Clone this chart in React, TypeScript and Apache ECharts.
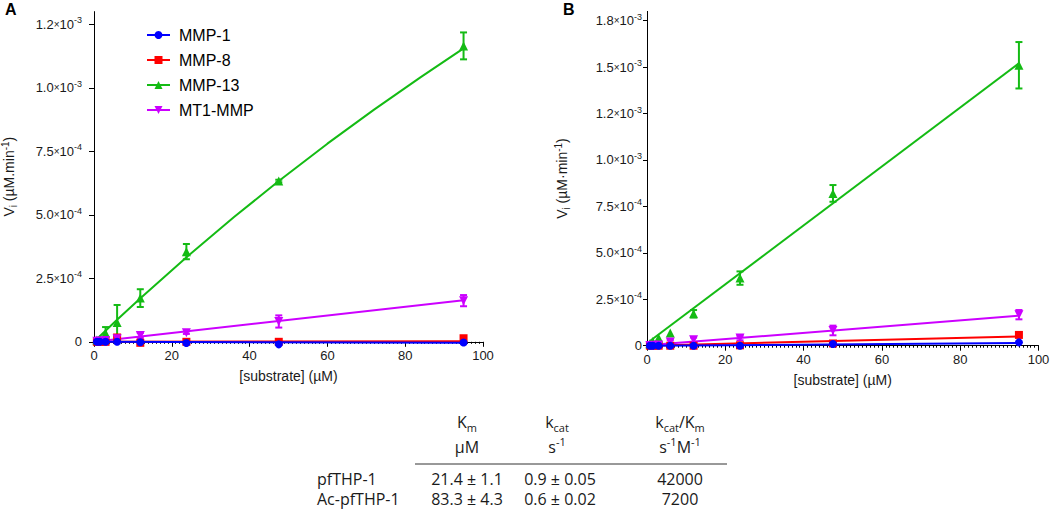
import React, { useEffect, useRef } from "react";
import * as echarts from "echarts";

// ---------- data ----------
const substrate = [0.74, 1.48, 2.97, 5.94, 11.9, 23.75, 47.5, 95];
const enzymes = ["MMP-1", "MMP-8", "MMP-13", "MT1-MMP"];
const enzymeColors = ["#0000ff", "#ff0000", "#14bb14", "#cc00ff"];
const enzymeSymbols = ["circle", "rect", "triangle", "triangle"];
const enzymeRotate = [0, 0, 0, 180];
const enzymeSymbolSize = [8, 8, 9, 9];
const enzymeZ = [5, 3, 3, 3];

// Panel A (pfTHP-1)
const aMMP1 = [0, 0, 0, 0, -2e-6, -5e-6, -1e-5, -3e-6];
const aMMP8 = [0, 0, 0, 1.7e-5, -4e-6, 0, 0, 1.4e-5];
const aMMP13 = [7e-6, 1e-5, 3.4e-5, 7.6e-5, 1.72e-4, 3.55e-4, 6.33e-4, 1.165e-3];
const aMT1 = [2e-6, 3e-6, 5e-6, 1.2e-5, 2.5e-5, 3.6e-5, 8e-5, 1.62e-4];
const aErrMMP1 = [0, 0, 0, 0, 0, 0, 0, 0];
const aErrMMP8 = [0, 0, 0, 0, 0, 0, 0, 0];
const aErrMMP13 = [0, 0, 2.4e-5, 6.9e-5, 3.5e-5, 3e-5, 5e-6, 5.3e-5];
const aErrMT1 = [0, 0, 0, 0, 1e-5, 5e-6, 2.4e-5, 2.2e-5];
const aFitLinearX = [0, 95];
const aFitMMP1 = [0, -4e-6];
const aFitMMP8 = [0, 2e-6];
const aFitMT1 = [0, 1.64e-4];
const aFitMMP13X = [0, 6, 12, 24, 36, 47.5, 60, 72, 84, 95];
const aFitMMP13 = [0, 8.8e-5, 1.72e-4, 3.36e-4, 4.91e-4, 6.33e-4, 7.8e-4, 9.14e-4, 1.042e-3, 1.155e-3];

// Panel B (Ac-pfTHP-1)
const bMMP1 = [0, 0, 0, 0, 0, 0, 9e-6, 1.8e-5];
const bMMP8 = [0, 0, 0, 0, 0, 2e-6, 1.2e-5, 5.8e-5];
const bMMP13 = [1e-5, 2.3e-5, 4.1e-5, 6.8e-5, 1.72e-4, 3.64e-4, 8.2e-4, 1.51e-3];
const bMT1 = [1e-6, 2e-6, 4e-6, 2e-5, 3.2e-5, 4.1e-5, 8.2e-5, 1.67e-4];
const bErrMMP1 = [0, 0, 0, 0, 0, 0, 0, 0];
const bErrMMP8 = [0, 0, 0, 0, 0, 0, 0, 0];
const bErrMMP13 = [0, 0, 0, 0, 2e-5, 3.6e-5, 4.5e-5, 1.25e-4];
const bErrMT1 = [0, 0, 0, 1e-5, 1.2e-5, 1.2e-5, 2.6e-5, 2.5e-5];
const bFitLinearX = [0, 95];
const bFitMMP1 = [0, 1.4e-5];
const bFitMMP8 = [0, 5e-5];
const bFitMT1 = [2e-6, 1.62e-4];
const bFitMMP13X = [0.74, 95];
const bFitMMP13 = [2.5e-5, 1.52e-3];

// axis ticks
const xTickInterval = 20;
const aYTicks = [0, 2.5e-4, 5e-4, 7.5e-4, 1e-3, 1.25e-3];
const aYMant = ["0", "2.5", "5.0", "7.5", "1.0", "1.2"];
const aYExp = ["", "-4", "-4", "-4", "-3", "-3"];
const bYTicks = [0, 2.5e-4, 5e-4, 7.5e-4, 1e-3, 1.25e-3, 1.5e-3, 1.75e-3];
const bYMant = ["0", "2.5", "5.0", "7.5", "1.0", "1.2", "1.5", "1.8"];
const bYExp = ["", "-4", "-4", "-4", "-3", "-3", "-3", "-3"];

// table
const tableRows = ["pfTHP-1", "Ac-pfTHP-1"];
const kmValues = ["21.4 ± 1.1", "83.3 ± 4.3"];
const kcatValues = ["0.9 ± 0.05", "0.6 ± 0.02"];
const effValues = ["42000", "7200"];

// ---------- option building ----------
const AX_FONT = "'Liberation Sans', Arial, Helvetica, sans-serif";
const TB_FONT = "'Open Sans', 'Noto Sans', sans-serif";
const TXT = "#1a1a1a";

function pair(xs: number[], ys: number[]) {
  return xs.map((x, i) => [x, ys[i]]);
}

function panelSeries(
  gi: number,
  pts: number[][],
  errs: number[][],
  fitXs: number[][],
  fitYs: number[][]
) {
  const out: any[] = [];
  enzymes.forEach((name, k) => {
    const color = enzymeColors[k];
    out.push({
      type: "line",
      name,
      xAxisIndex: gi,
      yAxisIndex: gi,
      data: pair(fitXs[k], fitYs[k]),
      showSymbol: false,
      symbol: enzymeSymbols[k],
      symbolRotate: enzymeRotate[k],
      symbolSize: enzymeSymbolSize[k],
      lineStyle: { color, width: 2 },
      itemStyle: { color },
      clip: false,
      silent: true,
      z: enzymeZ[k],
    });
  });
  enzymes.forEach((name, k) => {
    const color = enzymeColors[k];
    out.push({
      type: "scatter",
      name,
      xAxisIndex: gi,
      yAxisIndex: gi,
      data: pair(substrate, pts[k]),
      symbol: enzymeSymbols[k],
      symbolRotate: enzymeRotate[k],
      symbolSize: enzymeSymbolSize[k],
      itemStyle: { color, opacity: 1 },
      clip: false,
      silent: true,
      z: enzymeZ[k] + 1,
    });
    const ed = substrate
      .map((x, i) => [x, pts[k][i], errs[k][i]])
      .filter((d) => d[2] > 0);
    out.push({
      type: "custom",
      name,
      xAxisIndex: gi,
      yAxisIndex: gi,
      data: ed,
      encode: { x: 0, y: 1 },
      silent: true,
      clip: false,
      z: enzymeZ[k] + 1,
      renderItem: (params: any, api: any) => {
        const x = api.value(0);
        const y = api.value(1);
        const e = api.value(2);
        const top = api.coord([x, y + e]);
        const bot = api.coord([x, y - e]);
        const hw = 3.5;
        const style = { stroke: color, lineWidth: 2 };
        return {
          type: "group",
          children: [
            { type: "line", shape: { x1: top[0], y1: top[1], x2: bot[0], y2: bot[1] }, style },
            { type: "line", shape: { x1: top[0] - hw, y1: top[1], x2: top[0] + hw, y2: top[1] }, style },
            { type: "line", shape: { x1: bot[0] - hw, y1: bot[1], x2: bot[0] + hw, y2: bot[1] }, style },
          ],
        };
      },
    });
  });
  return out;
}

function yLabelFormatter(ticks: number[], mant: string[], exp: string[]) {
  return (value: number) => {
    const i = ticks.findIndex((t) => Math.abs(t - value) < 1e-9);
    if (i < 0) return "";
    if (!exp[i]) return `{m|${mant[i]}}`;
    return `{m|${mant[i]}}{x|×}{m|10}{e|${exp[i]}}`;
  };
}

function yAxis(gi: number, max: number, ticks: number[], mant: string[], exp: string[], fs: number, gap: number, tickLen: number, margin: number, titleDot: string) {
  return {
    gridIndex: gi,
    type: "value",
    min: 0,
    max,
    axisLine: { show: true, lineStyle: { color: "#000", width: 1 } },
    axisTick: { show: true, length: tickLen, lineStyle: { color: "#000", width: 1 }, customValues: ticks },
    axisLabel: {
      customValues: ticks,
      margin,
      formatter: yLabelFormatter(ticks, mant, exp),
      rich: {
        m: { fontSize: fs, fontFamily: AX_FONT, color: TXT, lineHeight: fs + 4 },
        x: { fontSize: fs - 3, fontFamily: AX_FONT, color: TXT, lineHeight: fs + 4 },
        e: { fontSize: fs - 4, fontFamily: AX_FONT, color: TXT, lineHeight: fs - 3, verticalAlign: "top" },
      },
    },
    splitLine: { show: false },
    name: `{v|V}{s|i}{v| (µM${titleDot}min}{p|-1}{v|)}`,
    nameLocation: "middle",
    nameRotate: 90,
    nameGap: gap,
    nameTextStyle: {
      rich: {
        v: { fontSize: 14, fontFamily: AX_FONT, color: TXT, lineHeight: 18 },
        s: { fontSize: 10, fontFamily: AX_FONT, color: TXT, lineHeight: 10, verticalAlign: "bottom" },
        p: { fontSize: 10, fontFamily: AX_FONT, color: TXT, lineHeight: 10, verticalAlign: "top" },
      },
    },
  };
}

function xAxis(gi: number) {
  return {
    gridIndex: gi,
    type: "value",
    min: 0,
    max: 100,
    interval: xTickInterval,
    axisLine: { onZero: false, lineStyle: { color: "#000", width: 1 } },
    axisTick: { length: 5, lineStyle: { color: "#000", width: 1 } },
    minorTick: { show: true, splitNumber: 20, length: 2, lineStyle: { color: "#000", width: 1 } },
    axisLabel: { fontSize: 13, fontFamily: AX_FONT, color: TXT, margin: 7 },
    splitLine: { show: false },
    minorSplitLine: { show: false },
    name: "[substrate] (µM)",
    nameLocation: "middle",
    nameGap: 27,
    nameTextStyle: { fontSize: 14, fontFamily: AX_FONT, color: TXT },
  };
}

const tbRich = {
  n: { fontSize: 16, fontFamily: TB_FONT, fill: TXT, color: TXT, lineHeight: 22 },
  s: { fontSize: 11, fontFamily: TB_FONT, fill: TXT, color: TXT, lineHeight: 12, verticalAlign: "bottom" },
  p: { fontSize: 11, fontFamily: TB_FONT, fill: TXT, color: TXT, lineHeight: 12, verticalAlign: "top" },
};

function tbText(x: number, y: number, text: string, align = "center") {
  return {
    type: "text",
    x,
    y,
    silent: true,
    style: {
      text,
      fill: TXT,
      fontSize: 16,
      fontFamily: TB_FONT,
      align,
      verticalAlign: "middle",
      rich: tbRich,
    },
  };
}

const tableColX = [467, 557, 680];
const tableGraphics: any[] = [
  tbText(tableColX[0], 422, "{n|K}{s|m}"),
  tbText(tableColX[1], 422, "{n|k}{s|cat}"),
  tbText(tableColX[2], 422, "{n|k}{s|cat}{n|/K}{s|m}"),
  tbText(tableColX[0], 447, "{n|µM}"),
  tbText(tableColX[1], 447, "{n|s}{p|-1}"),
  tbText(tableColX[2], 447, "{n|s}{p|-1}{n|M}{p|-1}"),
  {
    type: "line",
    silent: true,
    shape: { x1: 415, y1: 464, x2: 727, y2: 464 },
    style: { stroke: "#333", lineWidth: 1 },
  },
];
tableRows.forEach((r, i) => {
  const y = 479 + i * 20;
  tableGraphics.push(tbText(317, y, r, "left"));
  tableGraphics.push(tbText(tableColX[0], y, kmValues[i]));
  tableGraphics.push(tbText(tableColX[1] + 3, y, kcatValues[i]));
  tableGraphics.push(tbText(tableColX[2], y, effValues[i]));
});

const option: any = {
  animation: false,
  backgroundColor: "#fff",
  grid: [
    { left: 94, top: 11.6, width: 389, height: 330.2, containLabel: false, outerBoundsMode: "none" },
    { left: 647, top: 11.4, width: 391.5, height: 334.3, containLabel: false, outerBoundsMode: "none" },
  ],
  legend: {
    data: enzymes,
    orient: "vertical",
    left: 141,
    top: 22,
    itemWidth: 23,
    itemHeight: 10,
    itemGap: 9,
    selectedMode: false,
    textStyle: { fontSize: 16, fontFamily: AX_FONT, color: "#000", padding: [0, 0, 0, 4] },
  },
  xAxis: [xAxis(0), xAxis(1)],
  yAxis: [
    yAxis(0, 1.3e-3, aYTicks, aYMant, aYExp, 13, 76, 5, 12, "."),
    yAxis(1, 1.8e-3, bYTicks, bYMant, bYExp, 13, 76, 4, 5, "·"),
  ],
  series: [
    ...panelSeries(
      0,
      [aMMP1, aMMP8, aMMP13, aMT1],
      [aErrMMP1, aErrMMP8, aErrMMP13, aErrMT1],
      [aFitLinearX, aFitLinearX, aFitMMP13X, aFitLinearX],
      [aFitMMP1, aFitMMP8, aFitMMP13, aFitMT1]
    ),
    ...panelSeries(
      1,
      [bMMP1, bMMP8, bMMP13, bMT1],
      [bErrMMP1, bErrMMP8, bErrMMP13, bErrMT1],
      [bFitLinearX, bFitLinearX, bFitMMP13X, bFitLinearX],
      [bFitMMP1, bFitMMP8, bFitMMP13, bFitMT1]
    ),
  ],
  graphic: [
    {
      type: "text",
      x: 5,
      y: 1,
      silent: true,
      style: { text: "A", fontSize: 16, fontWeight: "bold", fontFamily: AX_FONT, fill: "#000", verticalAlign: "top" },
    },
    {
      type: "text",
      x: 563,
      y: 1,
      silent: true,
      style: { text: "B", fontSize: 16, fontWeight: "bold", fontFamily: AX_FONT, fill: "#000", verticalAlign: "top" },
    },
    ...tableGraphics,
  ],
};

export default function App() {
  const ref = useRef<HTMLDivElement>(null);
  useEffect(() => {
    const chart = echarts.init(ref.current!, null, { renderer: "svg" });
    chart.setOption(option);
    return () => chart.dispose();
  }, []);
  return (
    <div
      ref={ref}
      style={{ position: "fixed", left: 0, top: 0, width: 1050, height: 509, background: "#fff" }}
    />
  );
}
